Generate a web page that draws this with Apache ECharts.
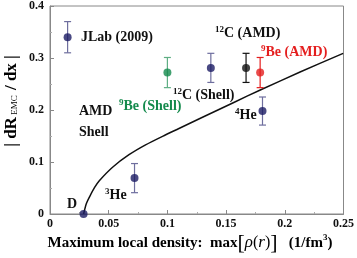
<!DOCTYPE html>
<html>
<head>
<meta charset="utf-8">
<script src="https://cdn.jsdelivr.net/npm/echarts@6/dist/echarts.min.js"></script>
<style>
html,body{margin:0;padding:0;background:#fff;}
#c{width:357px;height:258px;}
</style>
</head>
<body>
<div id="c"></div>
<script>
// ---- data ----
var xTicks = [0, 0.05, 0.1, 0.15, 0.2, 0.25];
var yTicks = [0, 0.1, 0.2, 0.3, 0.4];

// navy points: JLab, 12C (Shell), 4He, 3He, D
var blueX = [0.015, 0.137, 0.181, 0.072, 0.0286];
var blueY = [0.340, 0.281, 0.198, 0.069, 0];
var blueErr = [0.030, 0.028, 0.027, 0.028, 0];

// green: 9Be (Shell)
var greenX = [0.100];
var greenY = [0.272];
var greenErr = [0.029];

// black: 12C (AMD)
var blackX = [0.167];
var blackY = [0.281];
var blackErr = [0.028];

// red: 9Be (AMD)
var redX = [0.179];
var redY = [0.272];
var redErr = [0.029];

// curve
var curveX = [0.0286, 0.031, 0.0337, 0.038, 0.042, 0.0533, 0.0673, 0.0814, 0.0982, 0.1094, 0.129, 0.157, 0.1796, 0.213, 0.2497];
var curveY = [0, 0.020, 0.033, 0.051, 0.064, 0.090, 0.114, 0.133, 0.152, 0.164, 0.185, 0.215, 0.239, 0.273, 0.309];

function pairs(xs, ys) { return xs.map(function (x, i) { return [x, ys[i]]; }); }
function errData(xs, ys, es) { return xs.map(function (x, i) { return [x, ys[i] - es[i], ys[i] + es[i]]; }); }

function errSeries(xs, ys, es, color) {
  return {
    type: 'custom',
    silent: true,
    z: 3,
    data: errData(xs, ys, es),
    renderItem: function (params, api) {
      var x = api.value(0);
      var lo = api.coord([x, api.value(1)]);
      var hi = api.coord([x, api.value(2)]);
      if (Math.abs(hi[1] - lo[1]) < 0.5) return null;
      var w = 3.5;
      var st = { stroke: color, lineWidth: 1.2 };
      return {
        type: 'group',
        children: [
          { type: 'line', shape: { x1: lo[0], y1: lo[1], x2: hi[0], y2: hi[1] }, style: st },
          { type: 'line', shape: { x1: lo[0] - w, y1: lo[1], x2: lo[0] + w, y2: lo[1] }, style: st },
          { type: 'line', shape: { x1: hi[0] - w, y1: hi[1], x2: hi[0] + w, y2: hi[1] }, style: st }
        ]
      };
    }
  };
}
function ptSeries(xs, ys, color) {
  return {
    type: 'scatter', z: 4, symbol: 'circle', symbolSize: 8,
    itemStyle: { color: color }, data: pairs(xs, ys), silent: true
  };
}

var F = '"Liberation Serif", "DejaVu Serif", serif';
var navyCol = '#1c1c64', navyErrCol = '#6e6e9e';
var greenCol = '#138a4c', greenErrCol = '#5fae84';
var redCol = '#e41e1e';

var chart = echarts.init(document.getElementById('c'), null, { renderer: 'canvas' });

function sup(s) { return '{s|' + s + '}'; }
var richBase = function (col, size) {
  return {
    m: { fontFamily: F, fontWeight: 'bold', fontSize: size, color: col, lineHeight: size + 2 },
    s: { fontFamily: F, fontWeight: 'bold', fontSize: Math.round(size * 0.62), color: col, verticalAlign: 'top', lineHeight: size + 2 }
  };
};
function label(x, cy, parts, col, size) {
  size = size || 14;
  return {
    type: 'text', left: x, top: cy - (size + 2) / 2, z: 10,
    style: { text: parts, rich: richBase(col, size), font: 'bold ' + size + 'px ' + F, fill: col }
  };
}

chart.setOption({
  animation: false,
  backgroundColor: '#fff',
  grid: { left: 50, right: 10, top: 6, bottom: 44, show: true, borderColor: '#888', borderWidth: 1 },
  xAxis: {
    type: 'value', min: 0, max: 0.25, interval: 0.05,
    axisLine: { onZero: false, lineStyle: { color: '#888', width: 1 } },
    axisTick: { inside: true, length: 4, lineStyle: { color: '#888' } },
    minorTick: { show: true, splitNumber: 2, length: 2, lineStyle: { color: '#aaa' } },
    splitLine: { show: false },
    axisLabel: {
      margin: 4, color: '#111', fontFamily: F, fontWeight: 'bold', fontSize: 12,
      formatter: function (v) { return xTicks.indexOf(+v.toFixed(3)) >= 0 ? String(+v.toFixed(3)) : ''; }
    }
  },
  yAxis: {
    type: 'value', min: 0, max: 0.4, interval: 0.1,
    axisLine: { show: true, lineStyle: { color: '#888', width: 1 } },
    axisTick: { inside: true, length: 4, lineStyle: { color: '#888' } },
    minorTick: { show: true, splitNumber: 2, length: 2, lineStyle: { color: '#aaa' } },
    splitLine: { show: false },
    axisLabel: {
      margin: 6, color: '#111', fontFamily: F, fontWeight: 'bold', fontSize: 12,
      formatter: function (v) { return yTicks.indexOf(+v.toFixed(3)) >= 0 ? String(+v.toFixed(3)) : ''; }
    }
  },
  series: [
    { type: 'line', data: pairs(curveX, curveY), showSymbol: false, smooth: 0.25, z: 2,
      lineStyle: { color: '#111', width: 1.5 }, silent: true },
    errSeries(blueX, blueY, blueErr, navyErrCol),
    errSeries(greenX, greenY, greenErr, greenErrCol),
    errSeries(blackX, blackY, blackErr, '#111'),
    errSeries(redX, redY, redErr, redCol),
    ptSeries(blueX, blueY, navyCol),
    ptSeries(greenX, greenY, greenCol),
    ptSeries(blackX, blackY, '#111'),
    ptSeries(redX, redY, redCol)
  ],
  graphic: [
    label(81, 38, '{m|JLab (2009)}', '#111'),
    label(119, 106, sup('9') + '{m|Be (Shell)}', greenCol),
    label(173, 95, sup('12') + '{m|C (Shell)}', '#111'),
    label(215, 33, sup('12') + '{m|C (AMD)}', '#111'),
    label(261, 52, sup('9') + '{m|Be (AMD)}', redCol),
    label(235, 115, sup('4') + '{m|He}', '#111'),
    label(105, 195, sup('3') + '{m|He}', '#111'),
    label(67, 205, '{m|D}', '#111'),
    label(79, 112, '{m|AMD}', '#111'),
    label(79, 133, '{m|Shell}', '#111'),
    {
      type: 'text', x: 12, y: 101, rotation: Math.PI / 2, z: 10,
      style: {
        text: '{m|| dR}{e| EMC}{m| / dx |}',
        align: 'center', verticalAlign: 'middle',
        rich: {
          m: { fontFamily: F, fontWeight: 'bold', fontSize: 17, color: '#111', lineHeight: 18 },
          e: { fontFamily: F, fontSize: 9, color: '#111', padding: [6, 1, 0, 0], lineHeight: 18 }
        }
      }
    },
    {
      type: 'text', x: 190, y: 243, z: 10,
      style: {
        text: '{m|Maximum local density:  max}{b|[}{i|ρ}{n|(}{i|r}{n|)}{b|]}{m|   (1/fm}{s|3}{m|)}',
        align: 'center', verticalAlign: 'middle',
        rich: {
          m: { fontFamily: F, fontWeight: 'bold', fontSize: 15, color: '#111', lineHeight: 20 },
          n: { fontFamily: F, fontSize: 16, color: '#111', lineHeight: 20 },
          i: { fontFamily: F, fontStyle: 'italic', fontSize: 17, color: '#111', lineHeight: 20 },
          b: { fontFamily: F, fontSize: 22, color: '#111', lineHeight: 20 },
          s: { fontFamily: F, fontWeight: 'bold', fontSize: 9, color: '#111', verticalAlign: 'top', lineHeight: 20 }
        }
      }
    }
  ]
});
</script>
</body>
</html>
